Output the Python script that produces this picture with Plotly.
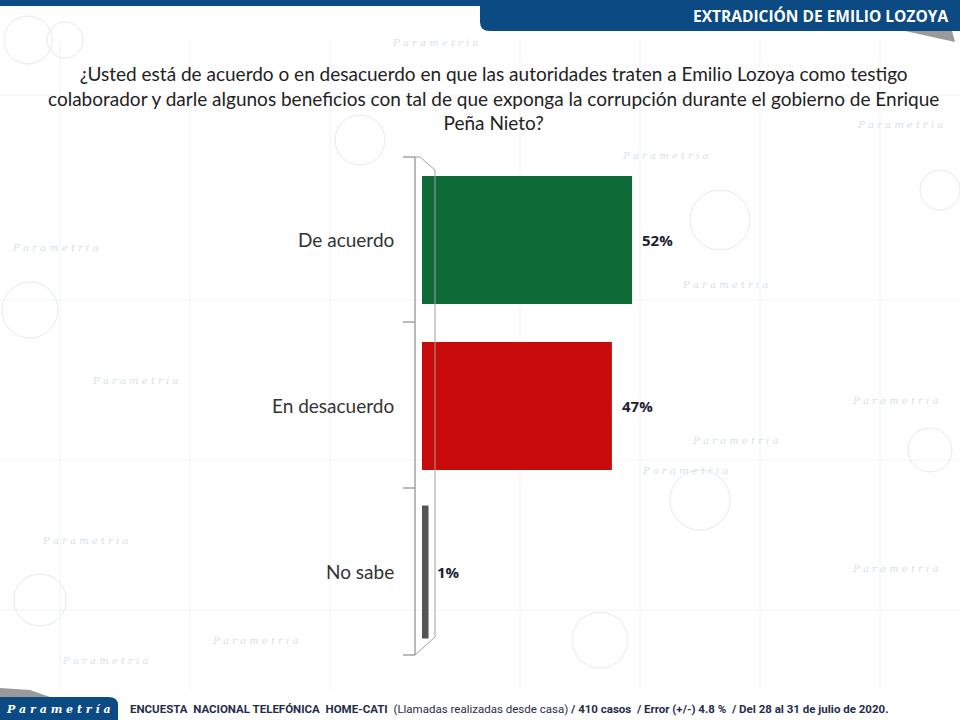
import plotly.graph_objects as go

categories = ["De acuerdo", "En desacuerdo", "No sabe"]
values = [52, 47, 1]
labels = ["52%", "47%", "1%"]
colors = ["#0e6b37", "#c80a0a", "#5f5f5f"]

title_text = ("¿Usted está de acuerdo o en desacuerdo en que las autoridades traten a Emilio Lozoya como testigo<br>"
              "colaborador y darle algunos beneficios con tal de que exponga la corrupción durante el gobierno de Enrique<br>"
              "Peña Nieto?")
header_text = "EXTRADICIÓN DE EMILIO LOZOYA"
footer_text = ("<b>ENCUESTA  NACIONAL TELEFÓNICA  HOME-CATI</b>  (Llamadas realizadas desde casa) "
               "<b>/ 410 casos  / Error (+/-) 4.8 %  / Del 28 al 31 de julio de 2020.</b>")

W, H = 960, 720
def px(x): return x / W
def py(y): return 1 - y / H

fig = go.Figure()
fig.add_trace(go.Bar(
    y=categories, x=values, orientation="h",
    marker=dict(color=colors, line=dict(width=[0, 0, 5], color=["#0e6b37", "#c80a0a", "#555555"])),
    hoverinfo="skip", width=0.77,
))

shapes = []
# watermark decorations
wm = "#e3eaf0"
for xv in [60, 190, 330, 520, 640, 760, 880]:
    shapes.append(dict(type="line", xref="paper", yref="paper", x0=px(xv), x1=px(xv), y0=py(40), y1=py(690),
                       line=dict(color="#eef2f6", width=1), layer="below"))
for yv in [95, 300, 460, 610]:
    shapes.append(dict(type="line", xref="paper", yref="paper", x0=px(0), x1=px(960), y0=py(yv), y1=py(yv),
                       line=dict(color="#f0f3f7", width=1), layer="below"))
circles = [(28, 40, 24), (65, 40, 18), (30, 310, 28), (720, 220, 30), (940, 190, 20),
           (40, 600, 26), (700, 500, 30), (930, 450, 22), (360, 140, 25), (600, 640, 28)]
for cx, cy, r in circles:
    shapes.append(dict(type="circle", xref="paper", yref="paper", x0=px(cx - r), x1=px(cx + r),
                       y0=py(cy + r), y1=py(cy - r), line=dict(color=wm, width=1), layer="below"))

# header banner
shapes.append(dict(type="rect", xref="paper", yref="paper", x0=0, x1=1, y0=py(6), y1=1,
                   fillcolor="#0b4a82", line=dict(width=0), layer="above"))
shapes.append(dict(type="path", xref="paper", yref="paper",
                   path=f"M {px(480)} {py(0)} L {px(480)} {py(22)} Q {px(480)} {py(31)} {px(490)} {py(31)} "
                        f"L {px(960)} {py(31)} L {px(960)} {py(0)} Z",
                   fillcolor="#0b4a82", line=dict(width=0), layer="above"))
shapes.append(dict(type="path", xref="paper", yref="paper",
                   path=f"M {px(905)} {py(31)} L {px(952)} {py(31)} L {px(955)} {py(42)} Z",
                   fillcolor="#9a9a9a", line=dict(width=0), layer="above"))
# footer logo box
shapes.append(dict(type="path", xref="paper", yref="paper",
                   path=f"M {px(0)} {py(720)} L {px(0)} {py(697)} L {px(108)} {py(697)} "
                        f"Q {px(118)} {py(697)} {px(118)} {py(705)} L {px(118)} {py(720)} Z",
                   fillcolor="#0b4a82", line=dict(width=0), layer="above"))
shapes.append(dict(type="path", xref="paper", yref="paper",
                   path=f"M {px(0)} {py(688)} L {px(30)} {py(690)} L {px(50)} {py(697)} L {px(0)} {py(697)} Z",
                   fillcolor="#9a9a9a", line=dict(width=0), layer="above"))

# axis and 3D wall
axc = "#8c8c8c"
shapes.append(dict(type="line", xref="paper", yref="paper", x0=px(415), x1=px(415), y0=py(157), y1=py(655),
                   line=dict(color=axc, width=1.2)))
for ty in [157, 322, 488, 655]:
    shapes.append(dict(type="line", xref="paper", yref="paper", x0=px(403), x1=px(415), y0=py(ty), y1=py(ty),
                       line=dict(color=axc, width=1.2)))
shapes.append(dict(type="path", xref="paper", yref="paper",
                   path=f"M {px(415)} {py(157)} L {px(420)} {py(157)} L {px(435)} {py(170)} "
                        f"L {px(435)} {py(637)} L {px(415)} {py(655)}",
                   line=dict(color="#a0a0a0", width=1)))

annotations = []
# watermark texts (drawn first, underneath)
for wx, wy in [(390, 42), (620, 155), (10, 247), (855, 124), (90, 380), (680, 285), (850, 400),
               (690, 440), (40, 540), (850, 568), (210, 640), (640, 470), (60, 660)]:
    annotations.append(dict(text="<i>P a r a m e t r i a</i>", xref="paper", yref="paper", x=px(wx), y=py(wy),
                            xanchor="left", yanchor="middle", showarrow=False,
                            font=dict(family="DejaVu Serif, serif", size=10, color="#d6dfe8")))
annotations.append(dict(text=title_text, xref="paper", yref="paper", x=px(493), y=py(60), xanchor="center",
                        yanchor="top", showarrow=False, align="center",
                        font=dict(family="Lato, sans-serif", size=19, color="#222222")))
annotations.append(dict(text=f"<b>{header_text}</b>", xref="paper", yref="paper", x=px(950), y=py(16),
                        xanchor="right", yanchor="middle", showarrow=False,
                        font=dict(family="Open Sans, sans-serif", size=15.5, color="white")))
annotations.append(dict(text="<b><i>P a r a m e t r í a</i></b>", xref="paper", yref="paper", x=px(58), y=py(709),
                        xanchor="center", yanchor="middle", showarrow=False,
                        font=dict(family="DejaVu Serif, serif", size=11, color="white")))
annotations.append(dict(text=footer_text, xref="paper", yref="paper", x=px(128), y=py(709),
                        xanchor="left", yanchor="middle", showarrow=False,
                        font=dict(family="Liberation Sans Narrow, Roboto, sans-serif", size=11.5, color="#1f2d4d")))
for cat, yc in zip(categories, [240, 405, 571]):
    annotations.append(dict(text=cat, xref="paper", yref="paper", x=px(396), y=py(yc), xanchor="right",
                            yanchor="middle", showarrow=False,
                            font=dict(family="Lato, sans-serif", size=19, color="#333333")))
# value labels, positioned at each bar's end through the data axes
for cat, v, lab in zip(categories, values, labels):
    annotations.append(dict(text=f"<b>{lab}</b>", xref="x", yref="y", x=v, y=cat, xanchor="left",
                            yanchor="middle", xshift=8 if v > 5 else 9, showarrow=False,
                            font=dict(family="Open Sans, sans-serif", size=15, color="#1b1e33")))

fig.update_layout(
    width=W, height=H, margin=dict(l=0, r=0, t=0, b=0),
    paper_bgcolor="white", plot_bgcolor="rgba(0,0,0,0)",
    showlegend=False, shapes=shapes, annotations=annotations,
    xaxis=dict(domain=[px(422), px(826)], range=[0, 100], visible=False, fixedrange=True),
    yaxis=dict(domain=[py(655), py(157)], autorange="reversed", visible=False, fixedrange=True),
    bargap=0.23,
)
fig.write_html("out.html", config={"displayModeBar": False},
               post_script="document.body.style.margin='0';document.body.style.overflow='hidden';")
